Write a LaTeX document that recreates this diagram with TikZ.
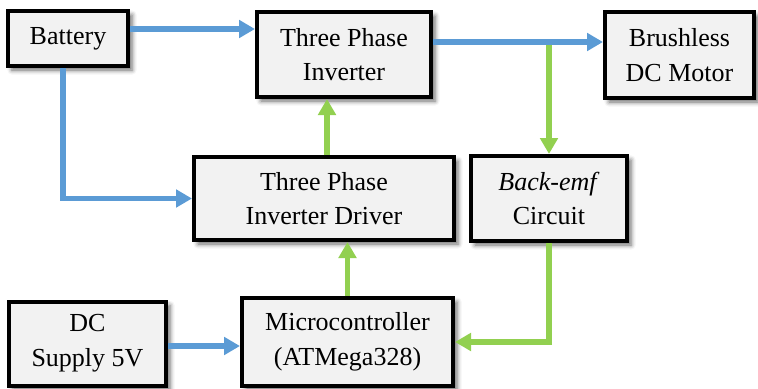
\documentclass[tikz,border=0pt]{standalone}
\usepackage{fontspec}
\setmainfont{Liberation Serif}
\usetikzlibrary{arrows.meta,calc,shadows.blur}
\newcommand\pxu{0.75pt}
\definecolor{flowblue}{HTML}{5B9BD5}
\definecolor{flowgreen}{HTML}{92D050}
\definecolor{boxfill}{HTML}{F2F2F2}
\begin{document}
\begin{tikzpicture}[x=0.75pt,y=-0.75pt,
  block/.style={draw=black, line width=3pt, fill=boxfill, inner sep=0pt,
    align=center, font=\fontsize{19.5}{26}\selectfont,
    blur shadow={shadow xshift=3pt, shadow yshift=-3pt,
      shadow blur radius=3.5pt, shadow opacity=60}},
  power/.style={draw=flowblue, line width=4pt,
    -{Triangle[length=12pt,width=13pt]}},
  signal/.style={draw=flowgreen, line width=4pt,
    -{Triangle[length=12pt,width=13pt]}}]
\useasboundingbox (0,0) rectangle (758,389);

% blocks
\node[block, minimum width=120*\pxu, minimum height=55*\pxu] (bat) at (68,38.5) {Battery};
\node[block, minimum width=174*\pxu, minimum height=85*\pxu] (inv) at (344,54.5) {Three Phase\\Inverter};
\node[block, minimum width=149*\pxu, minimum height=86*\pxu] (mot) at (679.5,55) {Brushless\\DC Motor};
\node[block, minimum width=260*\pxu, minimum height=83*\pxu] (drv) at (324,198.5) {Three Phase\\Inverter Driver};
\node[block, minimum width=156*\pxu, minimum height=85*\pxu] (emf) at (549,198.5) {\textit{Back-emf}\\Circuit};
\node[block, minimum width=157*\pxu, minimum height=84*\pxu] (dc) at (87.5,343.5) {DC\\Supply 5V};
\node[block, minimum width=211*\pxu, minimum height=88*\pxu] (mcu) at (347.5,342) {Microcontroller\\(ATMega328)};

% power paths
\coordinate (batout) at ($(bat.east)+(0,-9.5)$);
\draw[power] (batout) -- (batout -| inv.west);
\coordinate (invout) at ($(inv.east)+(0,-12.5)$);
\draw[power] (invout) -- (invout -| mot.west);
\coordinate (batdown) at ($(bat.south)+(-5,0)$);
\draw[power] (batdown) |- (drv.west);
\coordinate (dcout) at ($(dc.east)+(0,2.5)$);
\draw[power] (dcout) -- (dcout -| mcu.west);

% signal paths
\coordinate (tap) at (invout -| emf.north);
\draw[signal] ([yshift=-2pt]tap) -- (emf.north);
\coordinate (drvup) at ($(drv.north)+(3,0)$);
\draw[signal] (drvup) -- (drvup |- inv.south);
\draw[signal] (mcu.north) -- (mcu.north |- drv.south);
\draw[signal] (emf.south) |- (mcu.east);
\end{tikzpicture}
\end{document}
